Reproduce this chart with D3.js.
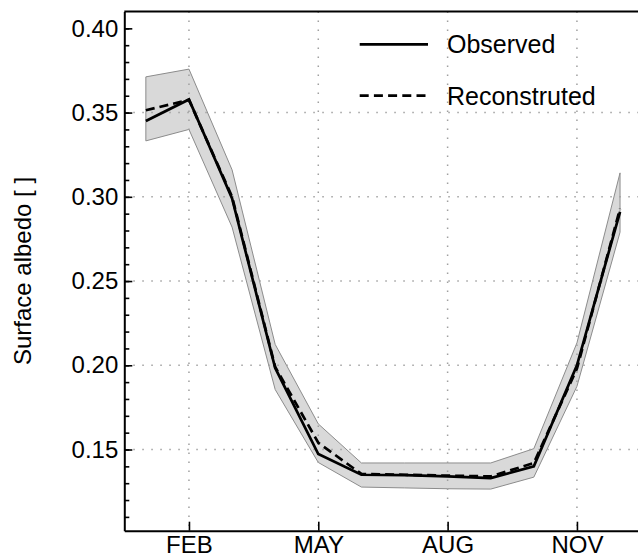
<!DOCTYPE html>
<html><head><meta charset="utf-8">
<script src="https://cdn.jsdelivr.net/npm/d3@7"></script>
<style>body{margin:0;background:#fff}svg{display:block}text{font-family:"Liberation Sans",Arial,sans-serif;fill:#000}</style>
</head><body><svg id="c" width="638" height="559"></svg>
<script>
const months = [1,2,3,4,5,6,7,8,9,10,11,12];
const observed = [0.345, 0.3578, 0.299, 0.1984, 0.1473, 0.135, 0.1348, 0.134, 0.133, 0.140, 0.200, 0.291];
const reconstructed = [0.3514, 0.3575, 0.300, 0.199, 0.154, 0.1355, 0.135, 0.1345, 0.134, 0.142, 0.198, 0.293];
const upper = [0.3712, 0.3758, 0.316, 0.2124, 0.1652, 0.142, 0.142, 0.142, 0.142, 0.1505, 0.2133, 0.3142];
const lower = [0.3332, 0.340, 0.282, 0.1856, 0.1423, 0.1277, 0.1272, 0.1267, 0.1265, 0.1336, 0.1875, 0.279];
const xTickVals = [2,5,8,11];
const xTickLabels = ["FEB","MAY","AUG","NOV"];
const yTickVals = [0.15,0.20,0.25,0.30,0.35,0.40];
const yGridVals = [0.15,0.20,0.25,0.30,0.35];
const yMinorVals = d3.range(11,41).map(d=>d/100);
const legendItems = ["Observed","Reconstruted"];

const svg = d3.select("#c");
const L=124.3, R=641.6, T=11.5, B=530.7;
const x = d3.scaleLinear().domain([0.5,12.5]).range([L,R]);
const y = d3.scaleLinear().domain([0.1018,0.41]).range([B,T]);

// band
const area = d3.area().x((d,i)=>x(months[i])).y0((d,i)=>y(lower[i])).y1((d,i)=>y(upper[i]));
svg.append("path").datum(upper).attr("d",area).attr("fill","#d9d9d9").attr("stroke","#8c8c8c").attr("stroke-width",1);

// grid
const g = svg.append("g").attr("stroke","#a0a0a0").attr("stroke-width",1.5).attr("stroke-dasharray","1.5,7.5");
g.selectAll(".vg").data(xTickVals).join("line").attr("x1",d=>x(d)).attr("x2",d=>x(d)).attr("y1",T).attr("y2",B);
g.selectAll(".hg").data(yGridVals).join("line").attr("y1",d=>y(d)).attr("y2",d=>y(d)).attr("x1",L).attr("x2",R);

// lines
const line = arr => d3.line().x((d,i)=>x(months[i])).y(d=>y(d))(arr);
svg.append("path").attr("d",line(observed)).attr("fill","none").attr("stroke","#000").attr("stroke-width",2.7).attr("stroke-linejoin","miter");
svg.append("path").attr("d",line(reconstructed)).attr("fill","none").attr("stroke","#000").attr("stroke-width",2.7).attr("stroke-dasharray","9,5");

// axes
const yAxis = d3.axisLeft(y).tickValues(yTickVals).tickFormat(d3.format(".2f")).tickSizeInner(-8).tickSizeOuter(0).tickPadding(6);
const ya = svg.append("g").attr("transform",`translate(${L},0)`).call(yAxis);
ya.selectAll("text").attr("font-size",24).attr("font-family","Liberation Sans, Arial, sans-serif");
ya.selectAll("line").attr("stroke-width",1.6);
const yMinor = d3.axisLeft(y).tickValues(yMinorVals).tickSizeInner(-5).tickSizeOuter(0).tickFormat("");
const ym = svg.append("g").attr("transform",`translate(${L},0)`).call(yMinor);
ym.select(".domain").remove();
ym.selectAll("line").attr("stroke-width",1.6);

const xAxis = d3.axisBottom(x).tickValues(xTickVals).tickFormat((d,i)=>xTickLabels[i]).tickSizeInner(-9).tickSizeOuter(0).tickPadding(5);
const xa = svg.append("g").attr("transform",`translate(0,${B})`).call(xAxis);
xa.selectAll("text").attr("font-size",24).attr("font-family","Liberation Sans, Arial, sans-serif");
xa.selectAll("line").attr("stroke-width",1.6);

ya.select(".domain").attr("stroke-width",2);
xa.select(".domain").attr("stroke-width",2);
svg.append("line").attr("x1",L).attr("x2",R).attr("y1",T).attr("y2",T).attr("stroke","#000").attr("stroke-width",2);

// y label
svg.append("text").attr("transform","translate(31,271) rotate(-90)").attr("text-anchor","middle").attr("font-size",24).text("Surface albedo  [ ]");

// legend
const lg = svg.append("g");
legendItems.forEach((t,i)=>{
  const yy = 44.3 + i*51.4;
  lg.append("line").attr("x1",359.7).attr("x2",428).attr("y1",yy).attr("y2",yy).attr("stroke","#000").attr("stroke-width",2.7).attr("stroke-dasharray", i? "9,5.2":null);
  lg.append("text").attr("x",447).attr("y",yy+9).attr("font-size",25).text(t);
});
</script></body></html>
